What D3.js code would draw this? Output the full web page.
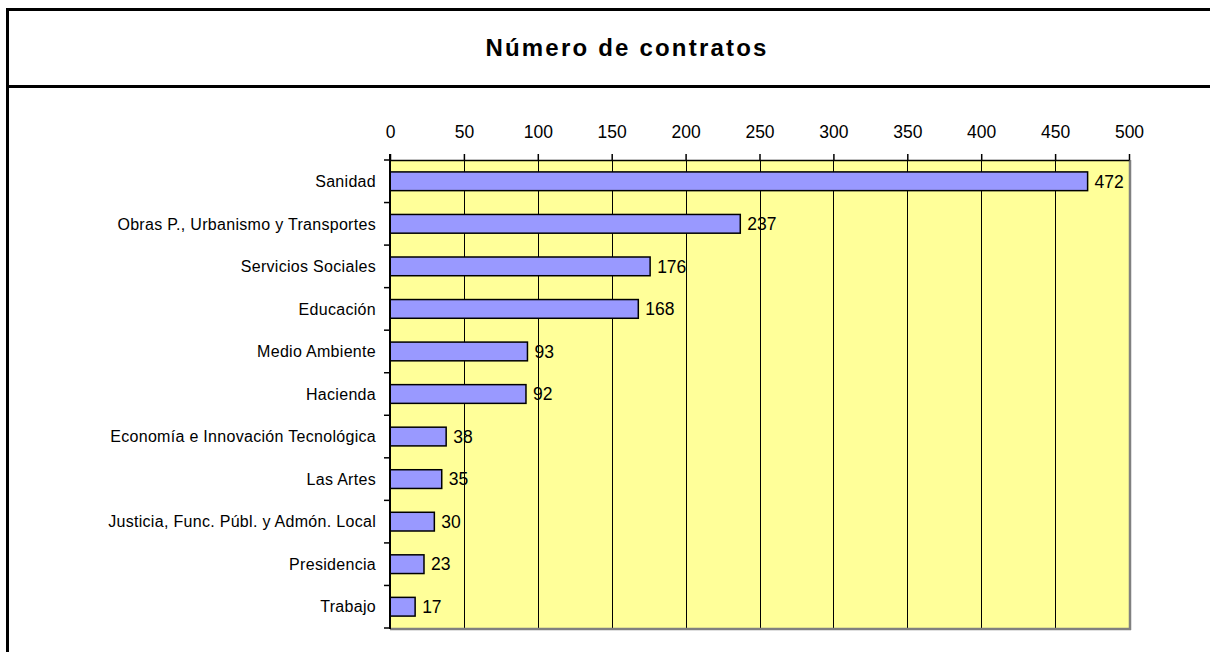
<!DOCTYPE html>
<html>
<head>
<meta charset="utf-8">
<script src="https://cdn.jsdelivr.net/npm/d3@7"></script>
<style>
  html, body { margin: 0; padding: 0; background: #ffffff; }
  svg { display: block; }
</style>
</head>
<body>
<svg id="chart" width="1210" height="652"></svg>
<script>
const title = "Número de contratos";
const categories = [
  "Sanidad",
  "Obras P., Urbanismo y Transportes",
  "Servicios Sociales",
  "Educación",
  "Medio Ambiente",
  "Hacienda",
  "Economía e Innovación Tecnológica",
  "Las Artes",
  "Justicia, Func. Públ. y Admón. Local",
  "Presidencia",
  "Trabajo"
];
const values = [472, 237, 176, 168, 93, 92, 38, 35, 30, 23, 17];
const tickValues = [0, 50, 100, 150, 200, 250, 300, 350, 400, 450, 500];

(function () {
const svg = d3.select("#chart");
const font = "Arial, 'Liberation Sans', sans-serif";

// outer frame
svg.append("line").attr("x1", 7.5).attr("x2", 7.5).attr("y1", 8).attr("y2", 652)
  .attr("stroke", "#000").attr("stroke-width", 3);
svg.append("line").attr("x1", 6).attr("x2", 1210).attr("y1", 9.5).attr("y2", 9.5)
  .attr("stroke", "#000").attr("stroke-width", 3);
svg.append("line").attr("x1", 6).attr("x2", 1210).attr("y1", 86.5).attr("y2", 86.5)
  .attr("stroke", "#000").attr("stroke-width", 3);

svg.append("text")
  .attr("x", 627).attr("y", 56)
  .attr("text-anchor", "middle")
  .attr("font-family", font)
  .attr("font-weight", "bold")
  .attr("font-size", 24)
  .attr("letter-spacing", "2.2px")
  .text(title);

const pLeft = 390, pRight = 1129, pTop = 160, pBottom = 628;

const x = d3.scaleLinear().domain([0, 500]).range([pLeft, pRight]);
const y = d3.scaleBand().domain(categories).range([pTop, pBottom]).paddingInner(0.56).paddingOuter(0.28);

// plot background
svg.append("rect").attr("x", pLeft).attr("y", pTop).attr("width", pRight - pLeft).attr("height", pBottom - pTop)
  .attr("fill", "#FFFF99");

// gridlines
svg.append("g").selectAll("line").data(tickValues.filter(d => d > 0 && d < 500)).join("line")
  .attr("x1", d => Math.round(x(d)) + 0.5).attr("x2", d => Math.round(x(d)) + 0.5)
  .attr("y1", pTop).attr("y2", pBottom)
  .attr("stroke", "#000").attr("stroke-width", 1);

// gray right/bottom edges (shadow)
svg.append("line").attr("x1", pRight + 1).attr("x2", pRight + 1).attr("y1", pTop).attr("y2", pBottom + 2)
  .attr("stroke", "#808080").attr("stroke-width", 2.5);
svg.append("line").attr("x1", pLeft).attr("x2", pRight + 2).attr("y1", pBottom + 1).attr("y2", pBottom + 1)
  .attr("stroke", "#808080").attr("stroke-width", 2.5);

// bars
svg.append("g").selectAll("rect").data(values).join("rect")
  .attr("x", x(0))
  .attr("y", (d, i) => y(categories[i]))
  .attr("width", d => x(d) - x(0))
  .attr("height", y.bandwidth())
  .attr("fill", "#9999FF")
  .attr("stroke", "#000")
  .attr("stroke-width", 1.5);

// value labels
svg.append("g").selectAll("text").data(values).join("text")
  .attr("x", d => x(d) + 7)
  .attr("y", (d, i) => y(categories[i]) + y.bandwidth() / 2)
  .attr("dy", "0.36em")
  .attr("font-family", font)
  .attr("font-size", 17.5)
  .attr("fill", "#000")
  .text(d => d);

// top axis
const xAxis = d3.axisTop(x).tickValues(tickValues).tickSize(6).tickPadding(16).tickSizeOuter(0);
const gx = svg.append("g").attr("transform", `translate(0,${pTop})`).call(xAxis);
gx.select(".domain").attr("stroke", "#000").attr("stroke-width", 1.5);
gx.selectAll(".tick line").attr("stroke", "#000").attr("stroke-width", 1.5);
gx.selectAll(".tick text").attr("font-family", font).attr("font-size", 17.5).attr("fill", "#000");

// left axis
svg.append("line").attr("x1", pLeft).attr("x2", pLeft).attr("y1", pTop - 6).attr("y2", pBottom + 1)
  .attr("stroke", "#000").attr("stroke-width", 2);
const step = (pBottom - pTop) / categories.length;
const bounds = d3.range(categories.length + 1).map(i => pTop + i * step);
svg.append("g").selectAll("line").data(bounds).join("line")
  .attr("x1", pLeft - 6).attr("x2", pLeft)
  .attr("y1", d => d).attr("y2", d => d)
  .attr("stroke", "#000").attr("stroke-width", 1.5);

svg.append("g").selectAll("text").data(categories).join("text")
  .attr("x", pLeft - 14)
  .attr("y", d => y(d) + y.bandwidth() / 2)
  .attr("dy", "0.36em")
  .attr("text-anchor", "end")
  .attr("font-family", font)
  .attr("font-size", 16)
  .attr("letter-spacing", "0.3px")
  .attr("fill", "#000")
  .text(d => d);
})();
</script>
</body>
</html>
